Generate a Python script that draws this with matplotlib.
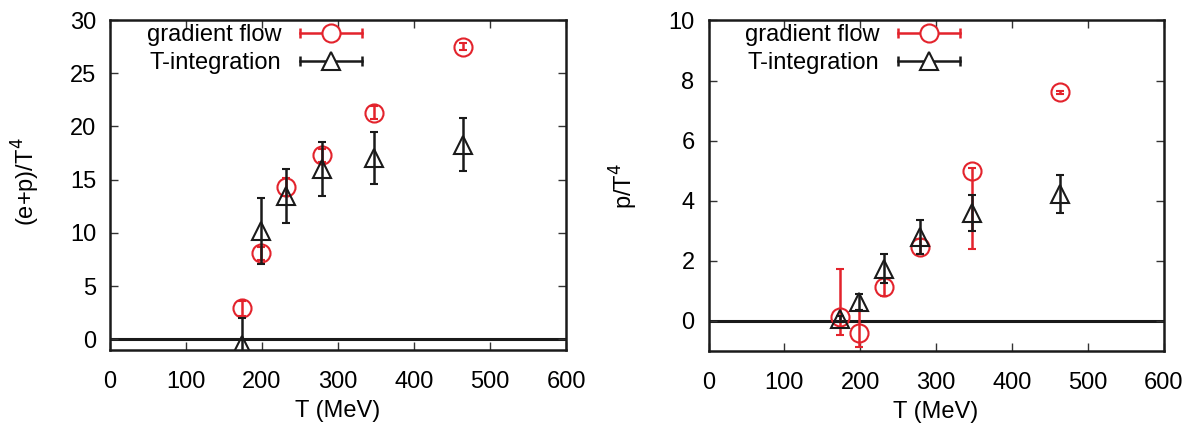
import matplotlib
matplotlib.use("Agg")
import matplotlib.pyplot as plt
from matplotlib.lines import Line2D
from matplotlib.legend_handler import HandlerBase

plt.rcParams['font.family'] = ['Liberation Sans', 'DejaVu Sans']

# ---- data ----
T = [174, 199, 232, 279, 348, 464]

gf_ep = [2.9, 8.1, 14.3, 17.3, 21.3, 27.5]
gf_ep_err = [0.75, 0.6, 0.85, 0.6, 0.6, 0.3]
ti_ep = [-0.5, 10.2, 13.5, 16.0, 17.0, 18.3]
ti_ep_err = [2.55, 3.1, 2.55, 2.5, 2.45, 2.5]

gf_p = [0.12, -0.40, 1.14, 2.47, 5.0, 7.61]
gf_p_lo = [0.6, 0.48, 0.3, 0.25, 2.6, 0.05]
gf_p_hi = [1.62, 0.78, 0.3, 0.25, 0.08, 0.05]
ti_p = [0.08, 0.63, 1.74, 2.8, 3.6, 4.23]
ti_p_err = [0.1, 0.27, 0.48, 0.57, 0.6, 0.63]

xticks = [0, 100, 200, 300, 400, 500, 600]
yticks_left = [0, 5, 10, 15, 20, 25, 30]
yticks_right = [0, 2, 4, 6, 8, 10]

RED = '#e3232c'
BLK = '#1a1a1a'
FS = 17


class ErrHandler(HandlerBase):
    def __init__(self, color, marker, ms):
        super().__init__()
        self.color = color
        self.marker = marker
        self.ms = ms

    def create_artists(self, legend, orig_handle, xdescent, ydescent,
                       width, height, fontsize, trans):
        y = height / 2 - ydescent
        x0, x1 = -xdescent, width - xdescent
        line = Line2D([x0, x1], [y, y], color=self.color, lw=1.8)
        caps = Line2D([x0, x1], [y, y], ls='none', marker='|', ms=7,
                      mew=1.8, color=self.color)
        mk = Line2D([(x0 + x1) / 2], [y], ls='none', marker=self.marker,
                    ms=self.ms, mfc='white', mec=self.color, mew=1.5)
        for a in (line, caps, mk):
            a.set_transform(trans)
        return [line, caps, mk]


fig = plt.figure(figsize=(11.88, 4.23), dpi=100)
ax1 = fig.add_axes([110 / 1188, 73 / 423, 456 / 1188, 330 / 423])
ax2 = fig.add_axes([708.5 / 1188, 72 / 423, 455 / 1188, 330.5 / 423])


def draw(ax, gf, gf_err, ti, ti_err, ylim, yticks, ylabel):
    ax.axhline(0, color=BLK, lw=2.2, zorder=1)
    ax.errorbar(T, gf, yerr=gf_err, fmt='o', ms=13, mfc='none', mec=RED,
                mew=1.5, ecolor=RED, elinewidth=1.8, capsize=2.8,
                capthick=1.8, zorder=3)
    ax.errorbar(T, ti, yerr=ti_err, fmt='^', ms=13, mfc='none', mec=BLK,
                mew=1.5, ecolor=BLK, elinewidth=1.8, capsize=2.8,
                capthick=1.8, zorder=4)
    ax.set_xlim(0, 600)
    ax.set_ylim(*ylim)
    ax.set_xticks(xticks)
    ax.set_yticks(yticks)
    ax.tick_params(direction='in', length=6, width=1.0, top=True,
                   right=True, labelsize=FS, color='#333333', pad=10)
    ax.tick_params(axis='x', pad=15)
    for s in ax.spines.values():
        s.set_linewidth(1.8)
        s.set_color(BLK)
    ax.set_xlabel('T (MeV)', fontsize=FS, labelpad=5)
    ax.set_ylabel(ylabel, fontsize=FS)
    h1 = Line2D([], [])
    h2 = Line2D([], [])
    ax.legend([h1, h2], ['gradient flow', 'T-integration'],
              handler_map={h1: ErrHandler(RED, 'o', 13),
                           h2: ErrHandler(BLK, '^', 13)},
              loc='upper right', bbox_to_anchor=(0.552, 0.988),
              frameon=False, markerfirst=False, fontsize=FS,
              handlelength=2.6, handletextpad=0.8, labelspacing=0.25,
              borderpad=0.0, borderaxespad=0.0)


draw(ax1, gf_ep, gf_ep_err, ti_ep, ti_ep_err, (-1, 30), yticks_left,
     '(e+p)/T$^4$')
draw(ax2, gf_p, [gf_p_lo, gf_p_hi], ti_p, ti_p_err, (-1, 10), yticks_right,
     'p/T$^4$')

ax1.yaxis.set_label_coords(-0.15, 0.51)
ax2.yaxis.set_label_coords(-0.15, 0.50)

fig.savefig('out.png', dpi=100)
